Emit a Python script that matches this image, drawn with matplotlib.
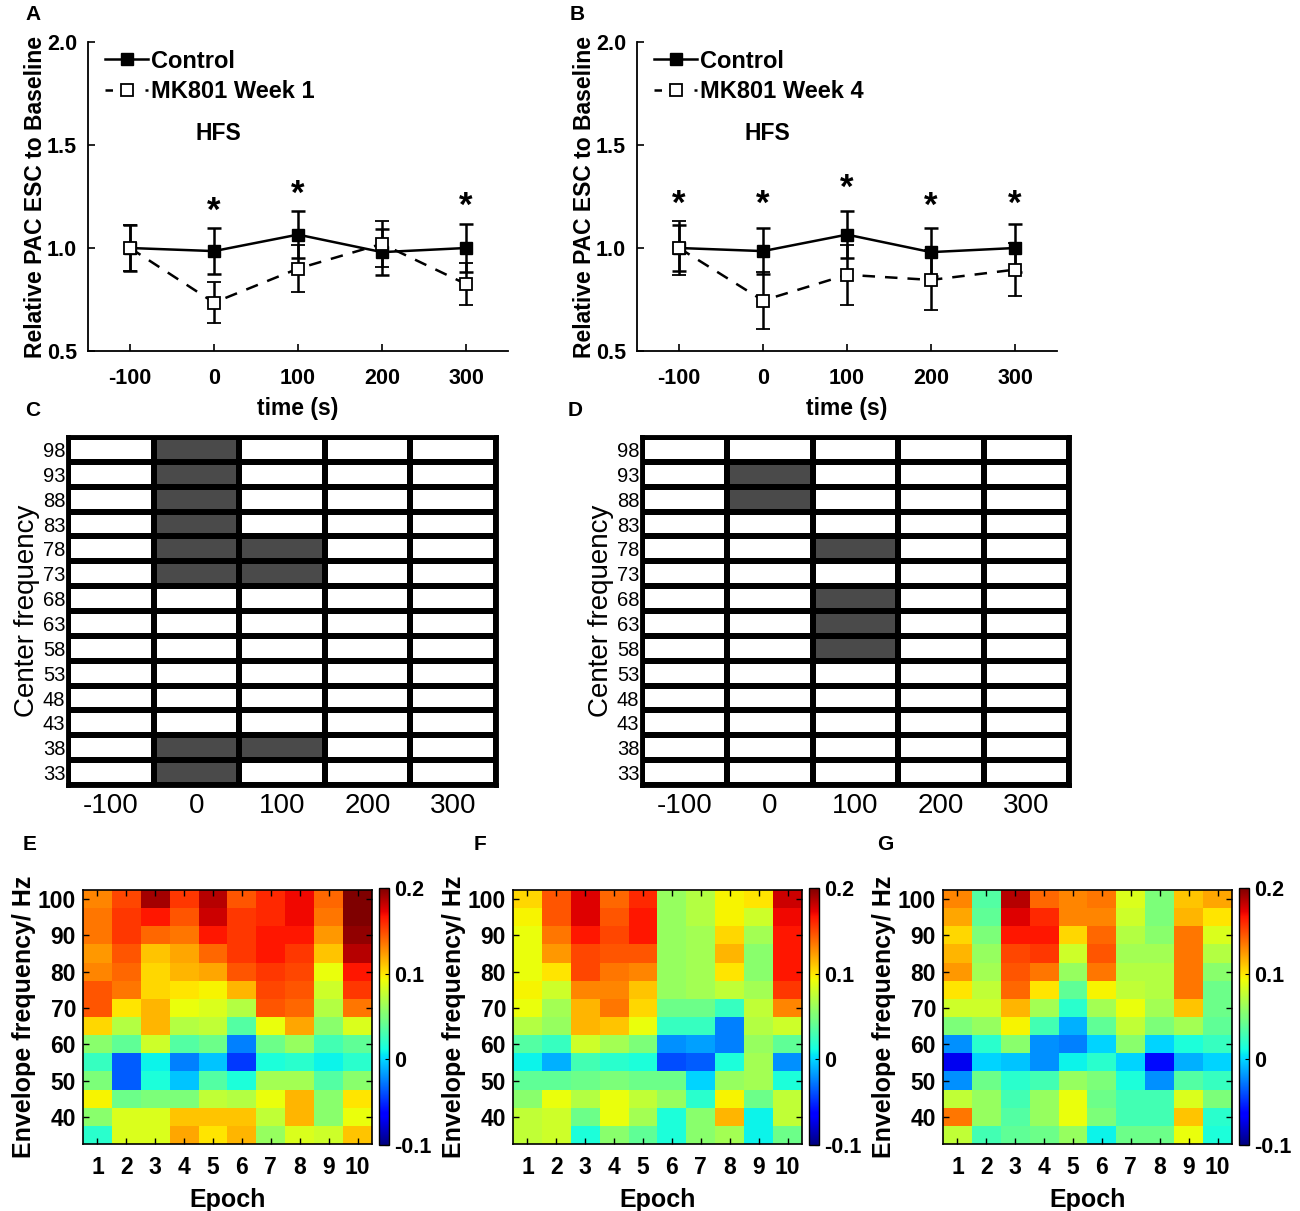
import numpy as np
import matplotlib
matplotlib.use("Agg")
import matplotlib.pyplot as plt
from matplotlib.colors import ListedColormap
from matplotlib.lines import Line2D

plt.rcParams['font.family'] = ['Liberation Sans', 'DejaVu Sans']
plt.rcParams['axes.unicode_minus'] = False

# ---------------- data ----------------
time = [-100, 0, 100, 200, 300]

ctrl_A = [1.0, 0.985, 1.065, 0.98, 1.0]
ctrl_A_err = [0.113, 0.11, 0.115, 0.11, 0.117]
mk1_A = [1.0, 0.735, 0.90, 1.02, 0.825]
mk1_A_err = [0.113, 0.10, 0.115, 0.113, 0.10]
star_A_t = [0, 100, 300]
star_A_y = [1.18, 1.26, 1.20]

ctrl_B = [1.0, 0.985, 1.065, 0.98, 1.0]
ctrl_B_err = [0.113, 0.11, 0.115, 0.115, 0.117]
mk4_B = [1.0, 0.745, 0.87, 0.845, 0.895]
mk4_B_err = [0.132, 0.14, 0.145, 0.145, 0.13]
star_B_t = [-100, 0, 100, 200, 300]
star_B_y = [1.21, 1.21, 1.29, 1.20, 1.21]

center_freq = [98, 93, 88, 83, 78, 73, 68, 63, 58, 53, 48, 43, 38, 33]
# significance (1 = gray) rows follow center_freq, columns follow time
sig_C = [
    [0, 1, 0, 0, 0],
    [0, 1, 0, 0, 0],
    [0, 1, 0, 0, 0],
    [0, 1, 0, 0, 0],
    [0, 1, 1, 0, 0],
    [0, 1, 1, 0, 0],
    [0, 0, 0, 0, 0],
    [0, 0, 0, 0, 0],
    [0, 0, 0, 0, 0],
    [0, 0, 0, 0, 0],
    [0, 0, 0, 0, 0],
    [0, 0, 0, 0, 0],
    [0, 1, 1, 0, 0],
    [0, 1, 0, 0, 0],
]
sig_D = [
    [0, 0, 0, 0, 0],
    [0, 1, 0, 0, 0],
    [0, 1, 0, 0, 0],
    [0, 0, 0, 0, 0],
    [0, 0, 1, 0, 0],
    [0, 0, 0, 0, 0],
    [0, 0, 1, 0, 0],
    [0, 0, 1, 0, 0],
    [0, 0, 1, 0, 0],
    [0, 0, 0, 0, 0],
    [0, 0, 0, 0, 0],
    [0, 0, 0, 0, 0],
    [0, 0, 0, 0, 0],
    [0, 0, 0, 0, 0],
]

epochs = [1, 2, 3, 4, 5, 6, 7, 8, 9, 10]
env_freq = [100, 95, 90, 85, 80, 75, 70, 65, 60, 55, 50, 45, 40, 35]

heat_E = [
    [0.130, 0.150, 0.190, 0.155, 0.185, 0.145, 0.160, 0.170, 0.140, 0.200],
    [0.135, 0.155, 0.165, 0.145, 0.180, 0.155, 0.160, 0.170, 0.135, 0.200],
    [0.135, 0.155, 0.140, 0.135, 0.165, 0.155, 0.165, 0.165, 0.125, 0.195],
    [0.125, 0.145, 0.110, 0.120, 0.140, 0.155, 0.165, 0.155, 0.110, 0.185],
    [0.130, 0.140, 0.105, 0.115, 0.120, 0.145, 0.155, 0.150, 0.090, 0.165],
    [0.145, 0.135, 0.105, 0.100, 0.095, 0.115, 0.150, 0.145, 0.080, 0.155],
    [0.145, 0.100, 0.115, 0.090, 0.085, 0.070, 0.145, 0.140, 0.070, 0.135],
    [0.105, 0.070, 0.115, 0.070, 0.075, 0.035, 0.090, 0.120, 0.055, 0.085],
    [0.055, 0.040, 0.080, 0.035, 0.045, -0.025, 0.045, 0.060, 0.030, 0.040],
    [0.025, -0.035, 0.010, -0.025, -0.005, -0.045, 0.015, 0.020, 0.010, 0.020],
    [0.050, -0.035, 0.015, -0.005, 0.035, 0.015, 0.065, 0.065, 0.035, 0.055],
    [0.095, 0.045, 0.050, 0.050, 0.075, 0.070, 0.090, 0.115, 0.055, 0.100],
    [0.055, 0.085, 0.085, 0.110, 0.110, 0.110, 0.075, 0.115, 0.055, 0.090],
    [0.020, 0.085, 0.085, 0.120, 0.100, 0.115, 0.060, 0.085, 0.080, 0.110],
]
heat_F = [
    [0.105, 0.145, 0.175, 0.140, 0.160, 0.060, 0.070, 0.095, 0.100, 0.180],
    [0.095, 0.145, 0.175, 0.145, 0.165, 0.060, 0.070, 0.095, 0.080, 0.170],
    [0.090, 0.135, 0.165, 0.150, 0.165, 0.060, 0.065, 0.105, 0.065, 0.165],
    [0.090, 0.125, 0.150, 0.145, 0.145, 0.060, 0.065, 0.115, 0.055, 0.165],
    [0.090, 0.100, 0.150, 0.135, 0.130, 0.060, 0.065, 0.100, 0.055, 0.165],
    [0.095, 0.080, 0.130, 0.130, 0.110, 0.060, 0.065, 0.075, 0.065, 0.155],
    [0.090, 0.065, 0.115, 0.135, 0.105, 0.045, 0.045, 0.025, 0.075, 0.130],
    [0.070, 0.060, 0.115, 0.110, 0.090, 0.025, 0.025, -0.025, 0.070, 0.080],
    [0.035, 0.025, 0.080, 0.065, 0.050, -0.020, -0.015, -0.025, 0.060, 0.040],
    [0.010, -0.010, 0.030, 0.020, 0.015, -0.040, -0.035, 0.015, 0.065, -0.020],
    [0.040, 0.040, 0.045, 0.050, 0.045, 0.045, 0.000, 0.060, 0.065, 0.015],
    [0.055, 0.090, 0.070, 0.090, 0.075, 0.060, 0.020, 0.095, 0.045, 0.075],
    [0.075, 0.080, 0.045, 0.090, 0.065, 0.015, 0.055, 0.115, 0.010, 0.075],
    [0.075, 0.080, 0.015, 0.055, 0.040, 0.015, 0.055, 0.065, 0.010, 0.045],
]
heat_G = [
    [0.130, 0.035, 0.185, 0.140, 0.130, 0.135, 0.085, 0.050, 0.110, 0.120],
    [0.120, 0.040, 0.175, 0.160, 0.130, 0.130, 0.080, 0.050, 0.115, 0.100],
    [0.105, 0.050, 0.165, 0.165, 0.105, 0.140, 0.070, 0.055, 0.135, 0.085],
    [0.115, 0.060, 0.150, 0.155, 0.080, 0.145, 0.065, 0.065, 0.135, 0.070],
    [0.125, 0.065, 0.145, 0.135, 0.060, 0.135, 0.070, 0.070, 0.135, 0.055],
    [0.100, 0.075, 0.140, 0.100, 0.040, 0.095, 0.075, 0.070, 0.135, 0.045],
    [0.080, 0.080, 0.115, 0.065, 0.020, 0.065, 0.090, 0.065, 0.110, 0.045],
    [0.050, 0.060, 0.095, 0.030, -0.010, 0.040, 0.075, 0.050, 0.065, 0.040],
    [-0.020, 0.020, 0.055, -0.020, -0.025, 0.000, 0.055, 0.000, 0.015, 0.025],
    [-0.070, 0.000, -0.005, -0.020, 0.010, 0.020, 0.000, -0.060, -0.010, 0.000],
    [-0.020, 0.045, 0.020, 0.030, 0.060, 0.050, 0.015, -0.020, 0.035, 0.025],
    [0.075, 0.060, 0.030, 0.060, 0.090, 0.045, 0.030, 0.030, 0.085, 0.050],
    [0.135, 0.060, 0.035, 0.060, 0.090, 0.050, 0.030, 0.030, 0.110, 0.020],
    [0.075, 0.030, 0.040, 0.045, 0.060, 0.010, 0.045, 0.045, 0.090, 0.015],
]

# ---------------- figure ----------------
W, H = 1300, 1211
fig = plt.figure(figsize=(W / 100, H / 100), dpi=100)


def ax_px(l, t, r, b):
    return fig.add_axes([l / W, 1 - b / H, (r - l) / W, (b - t) / H])


def line_panel(l, t, r, b, ctrl, ctrl_err, mk, mk_err, mk_label, st_t, st_y):
    ax = ax_px(l, t, r, b)
    ax.errorbar(time, ctrl, yerr=ctrl_err, color='k', lw=1.8, marker='s',
                ms=8, mfc='k', mec='k', capsize=5, elinewidth=1.8,
                capthick=1.8, zorder=3)
    ax.errorbar(time, mk, yerr=mk_err, color='k', lw=1.8, ls=(0, (5, 4)),
                marker='s', ms=8, mfc='white', mec='k', mew=1.3,
                capsize=5, elinewidth=1.8, capthick=1.8, zorder=4)
    ax.set_xlim(-150, 350)
    ax.set_ylim(0.5, 2.0)
    ax.set_xticks(time)
    ax.set_yticks([0.5, 1.0, 1.5, 2.0])
    ax.set_yticklabels(['0.5', '1.0', '1.5', '2.0'])
    ax.spines['top'].set_visible(False)
    ax.spines['right'].set_visible(False)
    for s in ['left', 'bottom']:
        ax.spines[s].set_linewidth(1.3)
    ax.tick_params(direction='in', length=5, width=1.2, labelsize=15.5)
    ax.tick_params(axis='x', pad=12)
    ax.tick_params(axis='y', pad=8)
    for lab in ax.get_xticklabels() + ax.get_yticklabels():
        lab.set_fontweight('bold')
    ax.set_xlabel('time (s)', fontsize=16.5, fontweight='bold', labelpad=6)
    ax.set_ylabel('Relative PAC ESC to Baseline', fontsize=16.5,
                  fontweight='bold', labelpad=0)
    handles = [
        Line2D([], [], color='k', lw=1.8, marker='s', ms=8, mfc='k', mec='k'),
        Line2D([], [], color='k', lw=1.8, ls=(0, (3, 5)), marker='s', ms=8,
               mfc='white', mec='k', mew=1.3),
    ]
    ax.legend(handles, ['Control', mk_label], loc='upper left',
              bbox_to_anchor=(0.04, 0.975), frameon=False,
              prop={'size': 17, 'weight': 'bold'}, handlelength=1.85,
              handletextpad=0.1, labelspacing=0.3, borderaxespad=0,
              borderpad=0)
    ax.text(5, 1.555, 'HFS', fontsize=16.5, fontweight='bold', ha='center',
            va='center')
    for tt, yy in zip(st_t, st_y):
        ax.text(tt, yy, '*', fontsize=25, fontweight='bold', ha='center',
                va='center')
    return ax


line_panel(88, 42, 508, 351, ctrl_A, ctrl_A_err, mk1_A, mk1_A_err,
           'MK801 Week 1', star_A_t, star_A_y)
line_panel(637, 42, 1057, 351, ctrl_B, ctrl_B_err, mk4_B, mk4_B_err,
           'MK801 Week 4', star_B_t, star_B_y)

gray_cmap = ListedColormap(['white', '#4a4a4a'])


def grid_panel(l, t, r, b, sig):
    ax = ax_px(l, t, r, b)
    xe = [-150, -50, 50, 150, 250, 350]
    ye = np.arange(len(center_freq) + 1)
    ax.pcolormesh(xe, ye, np.array(sig), cmap=gray_cmap, vmin=0, vmax=1,
                  edgecolors='k', linewidth=3.0)
    ax.set_xlim(-150, 350)
    ax.set_ylim(len(center_freq), 0)
    ax.set_xticks(time)
    ax.set_xticklabels([str(v) for v in time])
    ax.set_yticks(np.arange(len(center_freq)) + 0.5)
    ax.set_yticklabels([str(v) for v in center_freq])
    ax.tick_params(axis='x', length=0, labelsize=20, pad=6)
    ax.tick_params(axis='y', length=0, labelsize=14.5, pad=2)
    for s in ax.spines.values():
        s.set_linewidth(3.5)
    ax.set_ylabel('Center frequency', fontsize=20, labelpad=2)
    return ax


grid_panel(68, 437, 496, 785, sig_C)
grid_panel(642, 437, 1069, 785, sig_D)


def heat_panel(l, t, r, b, data):
    ax = ax_px(l, t, r, b)
    im = ax.imshow(np.array(data), cmap='jet', vmin=-0.1, vmax=0.2,
                   extent=[0.5, 10.5, 32.5, 102.5], origin='upper',
                   aspect='auto', interpolation='nearest')
    ax.set_xticks(epochs)
    ax.set_yticks([40, 50, 60, 70, 80, 90, 100])
    ax.tick_params(direction='in', length=4, width=1.0, top=True,
                   right=True, labelsize=16.5)
    ax.tick_params(axis='x', pad=9)
    ax.tick_params(axis='y', pad=5)
    for lab in ax.get_xticklabels() + ax.get_yticklabels():
        lab.set_fontweight('bold')
    for s in ax.spines.values():
        s.set_linewidth(1.2)
    ax.set_xlabel('Epoch', fontsize=18, fontweight='bold', labelpad=6)
    ax.set_ylabel('Envelope frequency/ Hz', fontsize=18, fontweight='bold',
                  labelpad=1)
    cax = ax_px(r + 7, t - 2, r + 17, b + 1)
    cb = fig.colorbar(im, cax=cax, ticks=[-0.1, 0, 0.1, 0.2])
    cb.ax.set_yticklabels(['-0.1', '0', '0.1', '0.2'])
    cb.ax.tick_params(direction='in', length=3, labelsize=15.5, pad=4)
    for lab in cb.ax.get_yticklabels():
        lab.set_fontweight('bold')
    cb.outline.set_linewidth(1.0)
    return ax


heat_panel(83, 890, 372, 1144, heat_E)
heat_panel(513, 890, 802, 1144, heat_F)
heat_panel(943, 890, 1232, 1144, heat_G)

# panel letters
for lt, x, y in [('A', 33, 15), ('B', 577, 15), ('C', 33, 410),
                 ('D', 575, 410), ('E', 30, 845), ('F', 480, 845),
                 ('G', 885, 845)]:
    fig.text(x / W, 1 - y / H, lt, fontsize=15, fontweight='bold',
             ha='center', va='center')

fig.savefig('out.png', dpi=100)
